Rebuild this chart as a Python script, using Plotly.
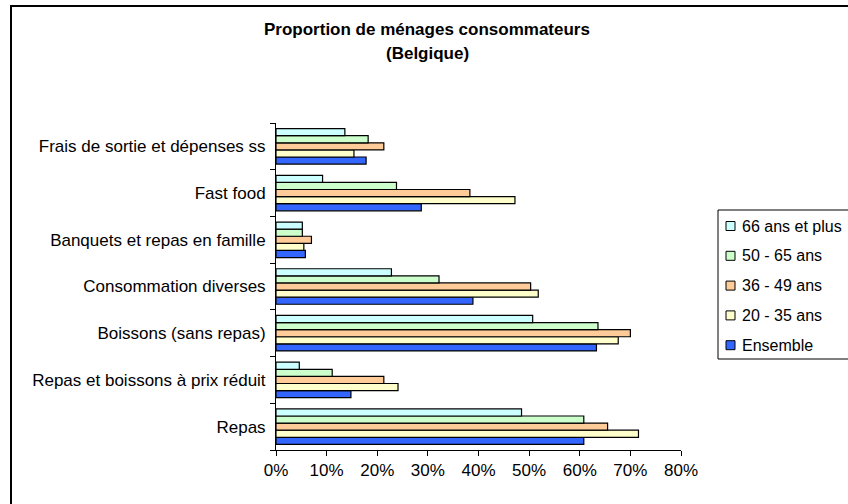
import plotly.graph_objects as go

categories = [
    "Repas",
    "Repas et boissons à prix réduit",
    "Boissons (sans repas)",
    "Consommation diverses",
    "Banquets et repas en famille",
    "Fast food",
    "Frais de sortie et dépenses ss",
]

ensemble = [0.608, 0.148, 0.633, 0.389, 0.058, 0.287, 0.178]
age_20_35 = [0.716, 0.241, 0.676, 0.518, 0.055, 0.472, 0.154]
age_36_49 = [0.655, 0.213, 0.700, 0.503, 0.070, 0.383, 0.213]
age_50_65 = [0.608, 0.111, 0.636, 0.322, 0.052, 0.238, 0.182]
age_66_plus = [0.485, 0.046, 0.507, 0.228, 0.052, 0.092, 0.136]

series_names = ["Ensemble", "20 - 35 ans", "36 - 49 ans", "50 - 65 ans", "66 ans et plus"]
series_values = [ensemble, age_20_35, age_36_49, age_50_65, age_66_plus]
series_colors = ["#3366FF", "#FFFFCC", "#FFCC99", "#CCFFCC", "#CCFFFF"]

title_line1 = "Proportion de ménages consommateurs"
title_line2 = "(Belgique)"

FONT = "Liberation Sans, Arial, sans-serif"

fig = go.Figure()
for name, vals, col in zip(series_names, series_values, series_colors):
    fig.add_trace(go.Bar(
        y=categories, x=vals, name=name, orientation="h",
        marker=dict(color=col, line=dict(color="black", width=1.2)),
        showlegend=False,
    ))

# pixel geometry
L, R, T, B = 276, 167, 123, 54
W, H = 848, 504
pw, ph = W - L - R, H - T - B

def px_x(x):
    return (x - L) / pw

def px_y(y):
    return 1 - (y - T) / ph

annotations = [
    dict(text="<b>" + title_line1 + "</b>", x=px_x(427), y=px_y(30),
         xref="paper", yref="paper", showarrow=False, xanchor="center", yanchor="middle",
         font=dict(family=FONT, size=17, color="black")),
    dict(text="<b>" + title_line2 + "</b>", x=px_x(427), y=px_y(54),
         xref="paper", yref="paper", showarrow=False, xanchor="center", yanchor="middle",
         font=dict(family=FONT, size=17, color="black")),
]
shapes = [
    # outer chart frame
    dict(type="rect", xref="paper", yref="paper",
         x0=px_x(11), x1=px_x(900), y0=px_y(560), y1=px_y(6),
         line=dict(color="black", width=2), fillcolor="rgba(0,0,0,0)", layer="above"),
    # legend box
    dict(type="rect", xref="paper", yref="paper",
         x0=px_x(718), x1=px_x(900), y0=px_y(359), y1=px_y(210),
         line=dict(color="black", width=1), fillcolor="rgba(0,0,0,0)", layer="above"),
]

# legend entries (top to bottom: reversed trace order)
legend_rows = list(zip(series_names, series_colors))[::-1]
for i, (name, col) in enumerate(legend_rows):
    yc = 226 + i * 29.8
    shapes.append(dict(type="rect", xref="paper", yref="paper",
                       x0=px_x(726), x1=px_x(735), y0=px_y(yc + 4.5), y1=px_y(yc - 4.5),
                       line=dict(color="black", width=1), fillcolor=col, layer="above"))
    annotations.append(dict(text=name, x=px_x(740), y=px_y(yc), xref="paper", yref="paper",
                            showarrow=False, xanchor="left", yanchor="middle",
                            font=dict(family=FONT, size=16, color="black")))

fig.update_layout(
    width=W, height=H,
    margin=dict(l=L, r=R, t=T, b=B, autoexpand=False),
    paper_bgcolor="white", plot_bgcolor="white",
    font=dict(family=FONT, size=17, color="black"),
    barmode="group", bargap=0.24, bargroupgap=0,
    showlegend=False,
    xaxis=dict(
        range=[0, 0.8], dtick=0.1, tickformat=".0%",
        showgrid=False, zeroline=False,
        showline=True, linecolor="black", linewidth=1,
        ticks="outside", ticklen=5, tickcolor="black",
        tickfont=dict(family=FONT, size=17, color="black"),
        automargin=False, fixedrange=True,
    ),
    yaxis=dict(
        type="category", categoryorder="array", categoryarray=categories,
        showgrid=False, zeroline=False,
        showline=True, linecolor="black", linewidth=1,
        ticks="outside", ticklen=5, tickcolor="black", tickson="boundaries",
        ticklabelstandoff=6,
        tickfont=dict(family=FONT, size=17, color="black"),
        automargin=False, fixedrange=True,
    ),
    annotations=annotations,
    shapes=shapes,
)

fig.write_html(
    "out.html",
    config={"displayModeBar": False},
    post_script="document.body.style.margin='0px';document.body.style.overflow='hidden';",
)
